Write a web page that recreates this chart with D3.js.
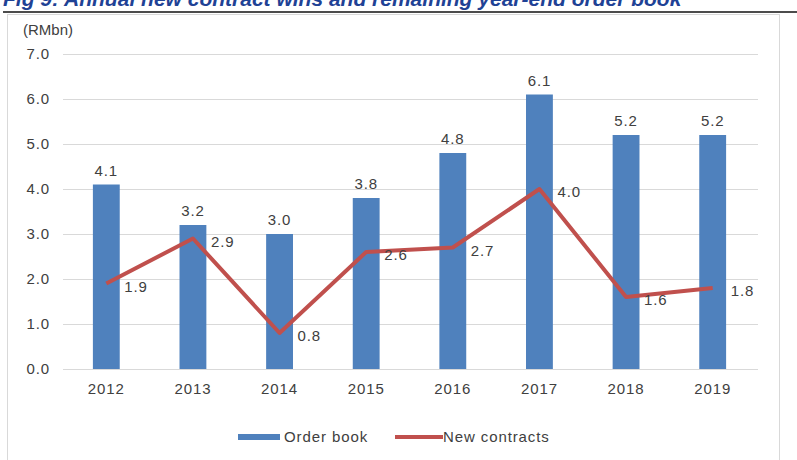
<!DOCTYPE html>
<html>
<head>
<meta charset="utf-8">
<script src="https://cdn.jsdelivr.net/npm/d3@7"></script>
<style>
  body { margin: 0; background: #fff; }
  svg { display: block; font-family: "Liberation Sans", Arial, sans-serif; }
  .lbl { font-size: 15px; letter-spacing: 0.9px; fill: #404040; }
</style>
</head>
<body>
<div id="chart"></div>
<script>
// data
const years = ["2012", "2013", "2014", "2015", "2016", "2017", "2018", "2019"];
const orderBook = [4.1, 3.2, 3.0, 3.8, 4.8, 6.1, 5.2, 5.2];
const newContracts = [1.9, 2.9, 0.8, 2.6, 2.7, 4.0, 1.6, 1.8];
const yTicks = [0, 1, 2, 3, 4, 5, 6, 7];

const width = 797;
const height = 460;
const plot = {left: 63, right: 756, top: 54, bottom: 369};

const svg = d3.select("#chart").append("svg")
    .attr("width", width)
    .attr("height", height);

// figure title, cut off by the top edge as in the source page
svg.append("text")
    .attr("x", 3)
    .attr("y", 6)
    .attr("fill", "#1f4295")
    .style("font-size", "21px")
    .style("font-weight", "bold")
    .style("font-style", "italic")
    .text("Fig 9: Annual new contract wins and remaining year-end order book");

svg.append("line")
    .attr("x1", 3).attr("x2", width)
    .attr("y1", 12).attr("y2", 12)
    .attr("stroke", "#111")
    .attr("stroke-width", 1.5);

// chart area border
svg.append("rect")
    .attr("x", 7.5).attr("y", 14.5)
    .attr("width", 772).attr("height", 460)
    .attr("fill", "#fff")
    .attr("stroke", "#d9d9d9");

const x = d3.scaleBand()
    .domain(years)
    .range([plot.left, plot.right])
    .paddingInner(0.69)
    .paddingOuter(0.345);

const xc = d => x(d) + x.bandwidth() / 2;

const y = d3.scaleLinear()
    .domain([0, 7])
    .range([plot.bottom, plot.top]);

// gridlines
svg.append("g")
    .attr("transform", `translate(${plot.left},0)`)
    .call(d3.axisLeft(y).tickValues(yTicks).tickSize(-(758 - plot.left)).tickFormat(""))
    .call(g => g.select(".domain").remove())
    .call(g => g.selectAll("line").attr("stroke", "#d9d9d9"));

// y tick labels
svg.append("g")
    .selectAll("text")
    .data(yTicks)
    .join("text")
    .attr("class", "lbl")
    .attr("x", 50)
    .attr("y", d => y(d))
    .attr("dy", "0.35em")
    .attr("text-anchor", "end")
    .text(d => d.toFixed(1));

svg.append("text")
    .attr("class", "lbl")
    .attr("x", 23)
    .attr("y", 35)
    .style("letter-spacing", "0px")
    .text("(RMbn)");

// bars
svg.append("g")
    .selectAll("rect")
    .data(years)
    .join("rect")
    .attr("x", d => x(d))
    .attr("width", x.bandwidth())
    .attr("y", (d, i) => y(orderBook[i]))
    .attr("height", (d, i) => y(0) - y(orderBook[i]))
    .attr("fill", "#4f81bd");

// x axis line
svg.append("line")
    .attr("x1", plot.left).attr("x2", 758)
    .attr("y1", y(0) + 0.5).attr("y2", y(0) + 0.5)
    .attr("stroke", "#d9d9d9");

// x tick labels
svg.append("g")
    .selectAll("text")
    .data(years)
    .join("text")
    .attr("class", "lbl")
    .attr("x", d => xc(d))
    .attr("y", 394)
    .attr("text-anchor", "middle")
    .text(d => d);

// bar value labels
svg.append("g")
    .selectAll("text")
    .data(years)
    .join("text")
    .attr("class", "lbl")
    .attr("x", d => xc(d))
    .attr("y", (d, i) => y(orderBook[i]) - 9)
    .attr("text-anchor", "middle")
    .text((d, i) => orderBook[i].toFixed(1));

// new contracts line
const line = d3.line()
    .x((d, i) => xc(years[i]))
    .y(d => y(d));

svg.append("path")
    .datum(newContracts)
    .attr("d", line)
    .attr("fill", "none")
    .attr("stroke", "#c0504d")
    .attr("stroke-width", 4)
    .attr("stroke-linejoin", "round");

svg.append("g")
    .selectAll("text")
    .data(newContracts)
    .join("text")
    .attr("class", "lbl")
    .attr("x", (d, i) => xc(years[i]) + 18)
    .attr("y", d => y(d) + 3)
    .attr("dy", "0.35em")
    .text(d => d.toFixed(1));

// legend
const legend = svg.append("g");
legend.append("rect")
    .attr("x", 238).attr("y", 434)
    .attr("width", 42).attr("height", 6)
    .attr("fill", "#4f81bd");
legend.append("text")
    .attr("class", "lbl")
    .attr("x", 284).attr("y", 437)
    .attr("dy", "0.35em")
    .text("Order book");
legend.append("line")
    .attr("x1", 395).attr("x2", 443)
    .attr("y1", 437).attr("y2", 437)
    .attr("stroke", "#c0504d")
    .attr("stroke-width", 4);
legend.append("text")
    .attr("class", "lbl")
    .attr("x", 443).attr("y", 437)
    .attr("dy", "0.35em")
    .text("New contracts");
</script>
</body>
</html>
